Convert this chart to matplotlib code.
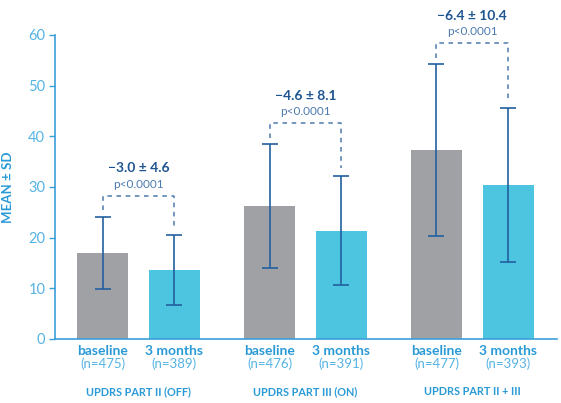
import matplotlib
matplotlib.use("Agg")
import matplotlib.pyplot as plt
import numpy as np

plt.rcParams['font.family'] = ['Lato', 'DejaVu Sans']

groups = ["UPDRS PART II (OFF)", "UPDRS PART III (ON)", "UPDRS PART II + III"]
timepoints = ["baseline", "3 months"]
baseline_mean = [17.0, 26.2, 37.3]
baseline_sd = [7.1, 12.2, 16.9]
month3_mean = [13.6, 21.4, 30.4]
month3_sd = [6.9, 10.8, 15.2]
baseline_n = [475, 476, 477]
month3_n = [389, 391, 393]
change_labels = ["\u22123.0 \u00b1 4.6", "\u22124.6 \u00b1 8.1", "\u22126.4 \u00b1 10.4"]
p_labels = ["p<0.0001", "p<0.0001", "p<0.0001"]
yticks = [0, 10, 20, 30, 40, 50, 60]

GRAY = "#a0a1a5"
CYAN = "#4dc5e0"
ERR = "#22609f"
AXIS = "#3a9fd9"
TICKTXT = "#55b3e3"
DARK = "#1e5591"
PTXT = "#4d7bb0"

fig = plt.figure(figsize=(5.61, 4.03), dpi=100)
ax = fig.add_axes([55/561, 1 - 339/403, 502/561, (339 - 35)/403])

x = np.arange(len(groups))
off = 0.215
w = 0.305
xb = x - off
xm = x + off

ax.bar(xb, baseline_mean, width=w, color=GRAY, zorder=2)
ax.bar(xm, month3_mean, width=w, color=CYAN, zorder=2)
ax.errorbar(xb, baseline_mean, yerr=baseline_sd, fmt='none', ecolor=ERR,
            elinewidth=1.2, capsize=6, capthick=1.2, zorder=3)
ax.errorbar(xm, month3_mean, yerr=month3_sd, fmt='none', ecolor=ERR,
            elinewidth=1.2, capsize=6, capthick=1.2, zorder=3)

# significance brackets
for i in range(len(groups)):
    top_b = baseline_mean[i] + baseline_sd[i]
    top_m = month3_mean[i] + month3_sd[i]
    h = max(top_b, top_m) + 4.2
    ax.plot([xb[i], xb[i], xm[i], xm[i]], [top_b + 1.3, h, h, top_m + 1.5],
            ls=(0, (3, 3)), color=PTXT, lw=1.1, zorder=3, clip_on=False)
    ax.text(x[i], h + 1.2, p_labels[i], ha='center', va='bottom',
            color=PTXT, fontsize=8.5, clip_on=False)
    ax.text(x[i], h + 4.2, change_labels[i], ha='center', va='bottom',
            color=DARK, fontsize=10, fontweight='bold', clip_on=False)

ax.set_ylim(0, 60)
ax.set_xlim(-0.5, 2.507)
ax.set_yticks(yticks)
ax.set_yticklabels([str(t) for t in yticks], color=TICKTXT, fontsize=10.5)
ax.tick_params(axis='y', length=4, width=1, color=AXIS, pad=3)
ax.set_xticks([])
for s in ['top', 'right']:
    ax.spines[s].set_visible(False)
for s in ['left', 'bottom']:
    ax.spines[s].set_color(AXIS)
    ax.spines[s].set_linewidth(1.2)

ax.set_ylabel("MEAN \u00b1 SD", color="#2a9ad6", fontsize=9.5, fontweight='bold', labelpad=10)

# x labels below bars
for i in range(len(groups)):
    for xp, name, n in [(xb[i], timepoints[0], baseline_n[i]), (xm[i], timepoints[1], month3_n[i])]:
        ax.text(xp, -1.2, name, ha='center', va='top', color="#2a9ad6",
                fontsize=10, fontweight='bold', clip_on=False)
        ax.text(xp, -3.7, f"(n={n})", ha='center', va='top', color=TICKTXT,
                fontsize=9.5, clip_on=False)
    ax.text(x[i], -9.3, groups[i], ha='center', va='top', color="#2a9ad6",
            fontsize=7.8, fontweight='bold', clip_on=False)

fig.savefig("out.png", dpi=100)
